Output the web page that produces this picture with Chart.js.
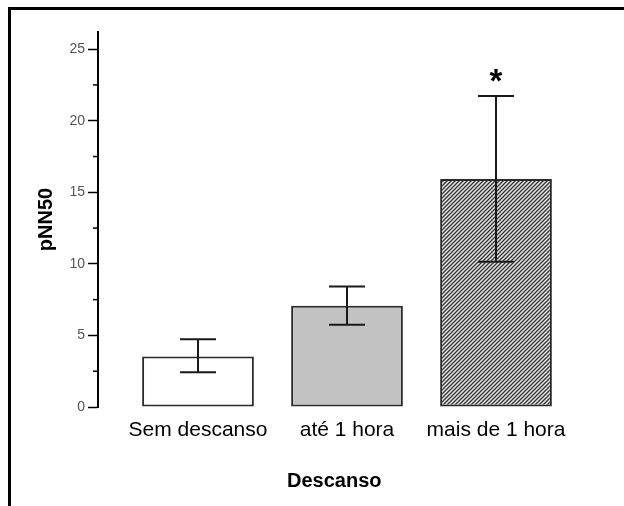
<!DOCTYPE html>
<html>
<head>
<meta charset="utf-8">
<script src="https://cdn.jsdelivr.net/npm/chart.js@4.4.1/dist/chart.umd.min.js"></script>
<style>
  html, body { margin: 0; padding: 0; background: #fff; overflow: hidden; }
  #marco { position: absolute; left: 8px; top: 7px; width: 640px; height: 540px; border-top: 3px solid #000; border-left: 3px solid #000; }
  #contenedor { position: absolute; left: 0; top: 0; width: 624px; height: 506px; }
</style>
</head>
<body>
<div id="marco"></div>
<div id="contenedor"><canvas id="grafico" width="624" height="506"></canvas></div>
<script>
// Datos
const categorias = ['Sem descanso', 'até 1 hora', 'mais de 1 hora'];
const medias = [3.52, 7.08, 15.93];
const errSup = [4.73, 8.42, 21.73];
const errInf = [2.42, 5.75, 10.15];
const marcas = ['', '', '*'];
const yTicks = [0, 2.5, 5, 7.5, 10, 12.5, 15, 17.5, 20, 22.5, 25];

const fuente = '"Liberation Sans", Arial, sans-serif';

// Patrón rayado para la tercera barra
function crearRayado() {
  const c = document.createElement('canvas');
  c.width = 4; c.height = 4;
  const g = c.getContext('2d');
  g.fillStyle = '#e6e6e6';
  g.fillRect(0, 0, 4, 4);
  g.strokeStyle = '#333';
  g.lineWidth = 1.3;
  g.beginPath();
  g.moveTo(-1, 5); g.lineTo(5, -1);
  g.moveTo(-1, 1); g.lineTo(1, -1);
  g.moveTo(3, 5); g.lineTo(5, 3);
  g.stroke();
  return document.getElementById('grafico').getContext('2d').createPattern(c, 'repeat');
}

// Barras de error y asterisco
const barrasError = {
  id: 'barrasError',
  afterDatasetsDraw(chart) {
    const { ctx, scales: { x, y } } = chart;
    ctx.save();
    ctx.strokeStyle = '#1a1a1a';
    ctx.lineWidth = 2;
    categorias.forEach((c, i) => {
      const px = x.getPixelForValue(i + 1);
      const arriba = y.getPixelForValue(errSup[i]);
      const abajo = y.getPixelForValue(errInf[i]);
      ctx.beginPath();
      ctx.moveTo(px, arriba); ctx.lineTo(px, abajo);
      ctx.moveTo(px - 18, arriba); ctx.lineTo(px + 18, arriba);
      ctx.moveTo(px - 18, abajo); ctx.lineTo(px + 18, abajo);
      ctx.stroke();
      if (marcas[i]) {
        ctx.fillStyle = '#000';
        ctx.font = 'bold 33px ' + fuente;
        ctx.textAlign = 'center';
        ctx.textBaseline = 'alphabetic';
        ctx.fillText(marcas[i], px, arriba - 4);
      }
    });
    ctx.restore();
  },
  afterDraw(chart) {
    // marcas menores del eje y
    const { ctx, scales: { y } } = chart;
    ctx.save();
    ctx.strokeStyle = '#000';
    ctx.lineWidth = 1.5;
    yTicks.filter(v => v % 5 !== 0).forEach(v => {
      const py = y.getPixelForValue(v);
      ctx.beginPath();
      ctx.moveTo(y.right - 5, py); ctx.lineTo(y.right, py);
      ctx.stroke();
    });
    ctx.restore();
  }
};

new Chart(document.getElementById('grafico'), {
  type: 'bar',
  data: {
    datasets: [{
      data: medias.map((m, i) => ({ x: i + 1, y: m })),
      backgroundColor: ['#ffffff', '#c2c2c2', crearRayado()],
      borderColor: '#2a2a2a',
      borderWidth: 2,
      borderSkipped: false,
      barPercentage: 0.75,
      categoryPercentage: 1
    }]
  },
  options: {
    responsive: false,
    animation: false,
    layout: { padding: { top: 32, right: 53.5, bottom: 0, left: 0 } },
    plugins: {
      legend: { display: false },
      tooltip: { enabled: false }
    },
    scales: {
      x: {
        type: 'linear',
        offset: false,
        min: 1 - 100 / 149,
        max: 3.5,
        afterBuildTicks: s => { s.ticks = categorias.map((c, i) => ({ value: i + 1 })); },
        afterFit: s => { s.height = 99; },
        grid: { display: false, drawTicks: false, offset: false },
        border: { display: false },
        ticks: {
          callback: v => categorias[v - 1],
          color: '#000',
          font: { family: fuente, size: 21 },
          padding: 11,
          maxRotation: 0,
          autoSkip: false
        },
        title: {
          display: true,
          text: 'Descanso',
          color: '#000',
          font: { family: fuente, size: 20, weight: 'bold' },
          padding: { top: 0, bottom: 13 }
        }
      },
      y: {
        min: 0,
        max: 26.2,
        afterBuildTicks: s => { s.ticks = yTicks.map(v => ({ value: v })); },
        afterFit: s => { s.width = 98; },
        grid: {
          drawOnChartArea: false,
          drawTicks: true,
          tickLength: 10,
          tickWidth: 1.5,
          tickColor: c => (c.tick && c.tick.value % 5 === 0) ? '#000' : 'rgba(0,0,0,0)'
        },
        border: { display: true, color: '#000', width: 2 },
        ticks: {
          callback: v => (v % 5 === 0 ? String(v) : ''),
          color: '#555',
          font: { family: '"Liberation Sans Narrow", "Arial Narrow", sans-serif', size: 14 },
          padding: 3,
          autoSkip: false
        },
        title: {
          display: true,
          text: 'pNN50',
          color: '#000',
          font: { family: fuente, size: 20, weight: 'bold' },
          padding: { top: 34, bottom: 0 }
        }
      }
    }
  },
  plugins: [barrasError]
});
</script>
</body>
</html>
